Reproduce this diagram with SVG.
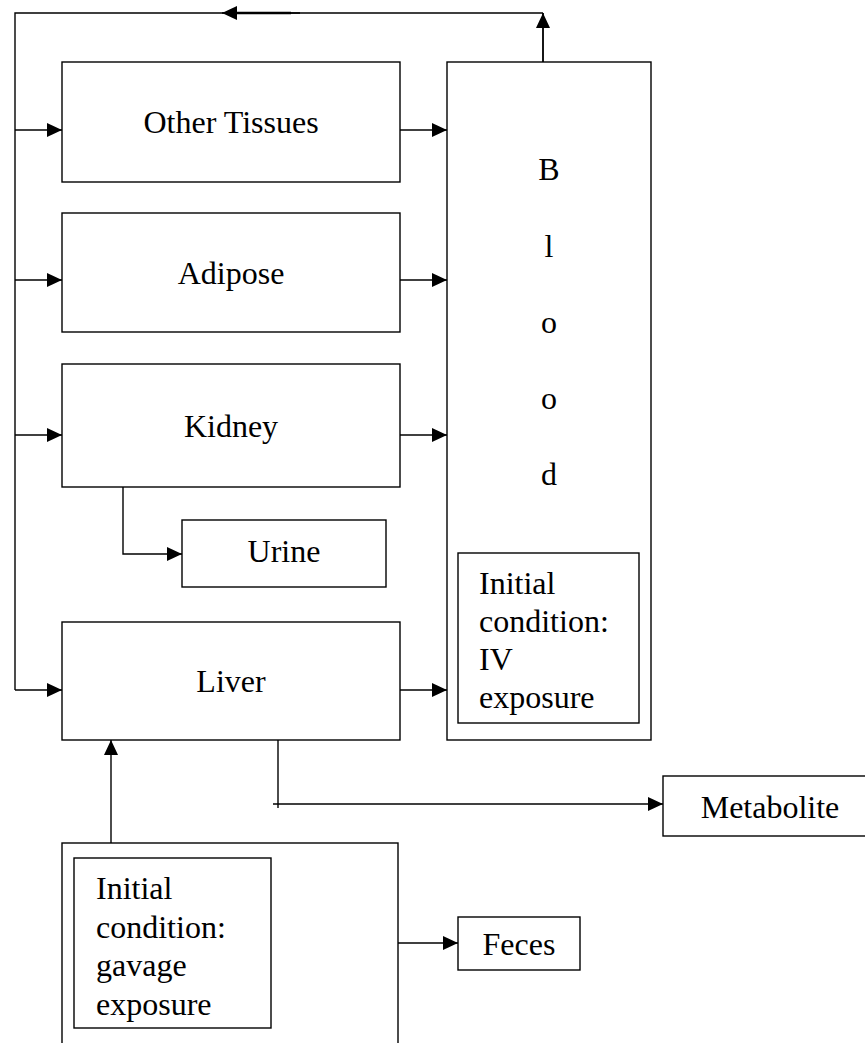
<svg xmlns="http://www.w3.org/2000/svg" width="865" height="1043" viewBox="0 0 865 1043">
<style>
.box{fill:#fff;stroke:#000;stroke-width:1.4}
.ln{fill:none;stroke:#000;stroke-width:1.4}
.arr{marker-end:url(#ah)}
text{font-family:"Liberation Serif","Times New Roman",serif;font-size:32px;fill:#000}
.c{text-anchor:middle}
</style>
<defs>
<marker id="ah" markerWidth="15" markerHeight="14" refX="15" refY="7" orient="auto" markerUnits="userSpaceOnUse">
<path d="M0,0 L15,7 L0,14 Z" fill="#000"/>
</marker>
</defs>
<rect width="865" height="1043" fill="#fff"/>
<g id="connectors">
<path class="ln" d="M543,62 V13"/>
<path class="ln arr" d="M543,62 V13"/>
<path class="ln" d="M543,13 H15 V690"/>
<path class="ln arr" d="M300,13 H222"/>
<path d="M236,13 H291" stroke="#000" stroke-width="2.4"/>
<path class="ln arr" d="M15,130 H62"/>
<path class="ln arr" d="M15,280 H62"/>
<path class="ln arr" d="M15,435 H62"/>
<path class="ln arr" d="M15,690 H62"/>
<path class="ln arr" d="M400,130 H447"/>
<path class="ln arr" d="M400,280 H447"/>
<path class="ln arr" d="M400,435 H447"/>
<path class="ln arr" d="M400,690 H447"/>
<path class="ln arr" d="M123,487 V554 H182"/>
<path class="ln" d="M278,740 V808"/>
<path class="ln arr" d="M273,804 H663"/>
<path class="ln arr" d="M111,843 V740"/>
<path class="ln arr" d="M398,943 H458"/>
</g>
<g id="other-tissues">
<rect class="box" x="62" y="62" width="338" height="120"/>
<text class="c" x="231" y="133">Other Tissues</text>
</g>
<g id="adipose">
<rect class="box" x="62" y="213" width="338" height="119"/>
<text class="c" x="231" y="284">Adipose</text>
</g>
<g id="kidney">
<rect class="box" x="62" y="364" width="338" height="123"/>
<text class="c" x="231" y="437">Kidney</text>
</g>
<g id="urine">
<rect class="box" x="182" y="520" width="204" height="67"/>
<text class="c" x="284" y="562">Urine</text>
</g>
<g id="liver">
<rect class="box" x="62" y="622" width="338" height="118"/>
<text class="c" x="231" y="692">Liver</text>
</g>
<g id="blood">
<rect class="box" x="447" y="62" width="204" height="678"/>
<text class="c" x="549" y="180">B</text>
<text class="c" x="549" y="257">l</text>
<text class="c" x="549" y="333">o</text>
<text class="c" x="549" y="409">o</text>
<text class="c" x="549" y="485">d</text>
</g>
<g id="iv-exposure">
<rect class="box" x="458" y="553" width="181" height="170"/>
<text x="479" y="594">Initial</text>
<text x="479" y="632">condition:</text>
<text x="479" y="670">IV</text>
<text x="479" y="708">exposure</text>
</g>
<g id="metabolite">
<rect class="box" x="663" y="776" width="215" height="60"/>
<text class="c" x="770" y="818">Metabolite</text>
</g>
<g id="gut">
<rect class="box" x="62" y="843" width="336" height="220"/>
</g>
<g id="gavage-exposure">
<rect class="box" x="74" y="858" width="197" height="170"/>
<text x="96" y="899">Initial</text>
<text x="96" y="938">condition:</text>
<text x="96" y="976">gavage</text>
<text x="96" y="1015">exposure</text>
</g>
<g id="feces">
<rect class="box" x="458" y="917" width="122" height="53"/>
<text class="c" x="519" y="955">Feces</text>
</g>
</svg>
